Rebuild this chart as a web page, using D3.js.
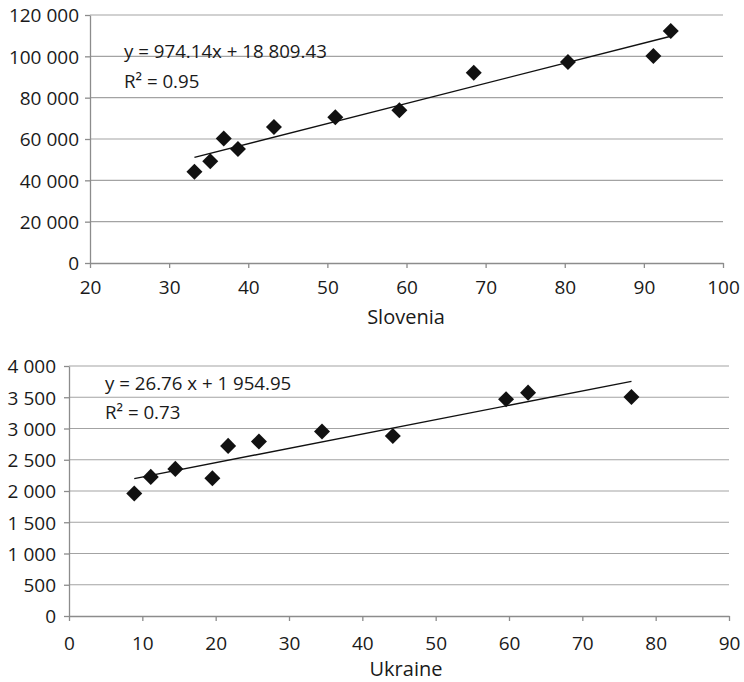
<!DOCTYPE html>
<html>
<head>
<meta charset="utf-8">
<script src="https://cdn.jsdelivr.net/npm/d3@7"></script>
<style>
  html, body { margin: 0; padding: 0; background: #fff; }
  svg { display: block; }
  text { font-family: "Open Sans", "Noto Sans", sans-serif; fill: #1a1a1a; }
</style>
</head>
<body>
<svg id="chart" width="744" height="682"></svg>
<script>
// ---- Data: Slovenia ----
const sloX = [33.2, 35.2, 36.9, 38.7, 43.25, 51.0, 59.1, 68.5, 80.4, 91.2, 93.4];
const sloY = [44200, 49200, 60300, 55200, 65800, 70500, 73900, 92100, 97300, 100200, 112300];
const sloXTicks = [20, 30, 40, 50, 60, 70, 80, 90, 100];
const sloYTicks = [0, 20000, 40000, 60000, 80000, 100000, 120000];
const sloEquation = "y = 974.14x + 18 809.43";
const sloR2 = "R² = 0.95";
const sloTitle = "Slovenia";

// ---- Data: Ukraine ----
const ukrX = [8.9, 11.15, 14.5, 19.55, 21.7, 25.9, 34.5, 44.16, 59.6, 62.6, 76.7];
const ukrY = [1960, 2226, 2354, 2205, 2722, 2791, 2951, 2881, 3468, 3574, 3505];
const ukrXTicks = [0, 10, 20, 30, 40, 50, 60, 70, 80, 90];
const ukrYTicks = [0, 500, 1000, 1500, 2000, 2500, 3000, 3500, 4000];
const ukrEquation = "y = 26.76 x + 1 954.95";
const ukrR2 = "R² = 0.73";
const ukrTitle = "Ukraine";

const locale = d3.formatLocale({decimal: ".", thousands: " ", grouping: [3], currency: ["", ""]});
const fmt = locale.format(",");
const FONT = '"Open Sans", "Noto Sans", sans-serif';

const svg = d3.select("#chart");

function linreg(xs, ys) {
  const n = xs.length;
  const mx = d3.mean(xs), my = d3.mean(ys);
  let sxy = 0, sxx = 0;
  for (let i = 0; i < n; i++) { sxy += (xs[i] - mx) * (ys[i] - my); sxx += (xs[i] - mx) ** 2; }
  const b = sxy / sxx;
  return {b, a: my - b * mx};
}

function drawPanel(cfg) {
  const g = svg.append("g");
  const x = d3.scaleLinear().domain(d3.extent(cfg.xTicks)).range([cfg.left, cfg.right]);
  const y = d3.scaleLinear().domain(d3.extent(cfg.yTicks)).range([cfg.bottom, cfg.top]);

  // gridlines
  g.append("g").selectAll("line").data(cfg.yTicks.filter(v => v !== 0)).join("line")
    .attr("x1", cfg.left).attr("x2", cfg.right)
    .attr("y1", d => y(d)).attr("y2", d => y(d))
    .attr("stroke", "#a3a3a3").attr("stroke-width", 1.1);

  // axes
  const ax = g.append("g").attr("transform", `translate(0,${cfg.bottom})`)
    .call(d3.axisBottom(x).tickValues(cfg.xTicks).tickFormat(d3.format("d")).tickSize(5).tickSizeOuter(0).tickPadding(cfg.xPad));
  const ay = g.append("g").attr("transform", `translate(${cfg.left},0)`)
    .call(d3.axisLeft(y).tickValues(cfg.yTicks).tickFormat(fmt).tickSize(5).tickSizeOuter(0).tickPadding(cfg.yPad));
  [ax, ay].forEach(a => {
    a.attr("font-size", 19).attr("font-family", FONT);
    a.select(".domain").attr("stroke", "#8c8c8c").attr("stroke-width", 1.3);
    a.selectAll(".tick line").attr("stroke", "#8c8c8c").attr("stroke-width", 1.3);
    a.selectAll(".tick text").attr("fill", "#1a1a1a")
      .attr("font-size", 19).style("font-size", "19px").style("font-family", FONT);
  });
  ay.selectAll(".tick text").attr("dy", "0.36em");

  // trend line (least squares from the data)
  const {a, b} = linreg(cfg.xs, cfg.ys);
  const [x0, x1] = d3.extent(cfg.xs);
  g.append("line")
    .attr("x1", x(x0)).attr("y1", y(a + b * x0))
    .attr("x2", x(x1)).attr("y2", y(a + b * x1))
    .attr("stroke", "#111").attr("stroke-width", 1.4);

  // markers
  const sym = d3.symbol().type(d3.symbolSquare).size(128);
  g.append("g").selectAll("path").data(cfg.xs.map((v, i) => [v, cfg.ys[i]])).join("path")
    .attr("d", sym)
    .attr("transform", d => `translate(${x(d[0])},${y(d[1])}) rotate(45)`)
    .attr("fill", "#111");

  // equation text
  g.append("text").attr("x", cfg.eqX).attr("y", cfg.eqY).style("font-size", "18.7px").text(cfg.eq);
  g.append("text").attr("x", cfg.eqX).attr("y", cfg.eqY + cfg.eqGap).style("font-size", "18.7px").text(cfg.r2);

  // axis title
  g.append("text").attr("x", cfg.titleX).attr("y", cfg.titleY).attr("text-anchor", "middle")
    .style("font-size", "20px").text(cfg.title);
}

drawPanel({
  xs: sloX, ys: sloY, xTicks: sloXTicks, yTicks: sloYTicks,
  left: 90, right: 723, top: 15, bottom: 263,
  xPad: 13, yPad: 6,
  eq: sloEquation, r2: sloR2, eqX: 124, eqY: 58, eqGap: 29.5,
  title: sloTitle, titleX: 406, titleY: 324
});

drawPanel({
  xs: ukrX, ys: ukrY, xTicks: ukrXTicks, yTicks: ukrYTicks,
  left: 69, right: 729, top: 366, bottom: 616,
  xPad: 15.5, yPad: 8,
  eq: ukrEquation, r2: ukrR2, eqX: 105, eqY: 390, eqGap: 28.5,
  title: ukrTitle, titleX: 406, titleY: 676
});
</script>
</body>
</html>
